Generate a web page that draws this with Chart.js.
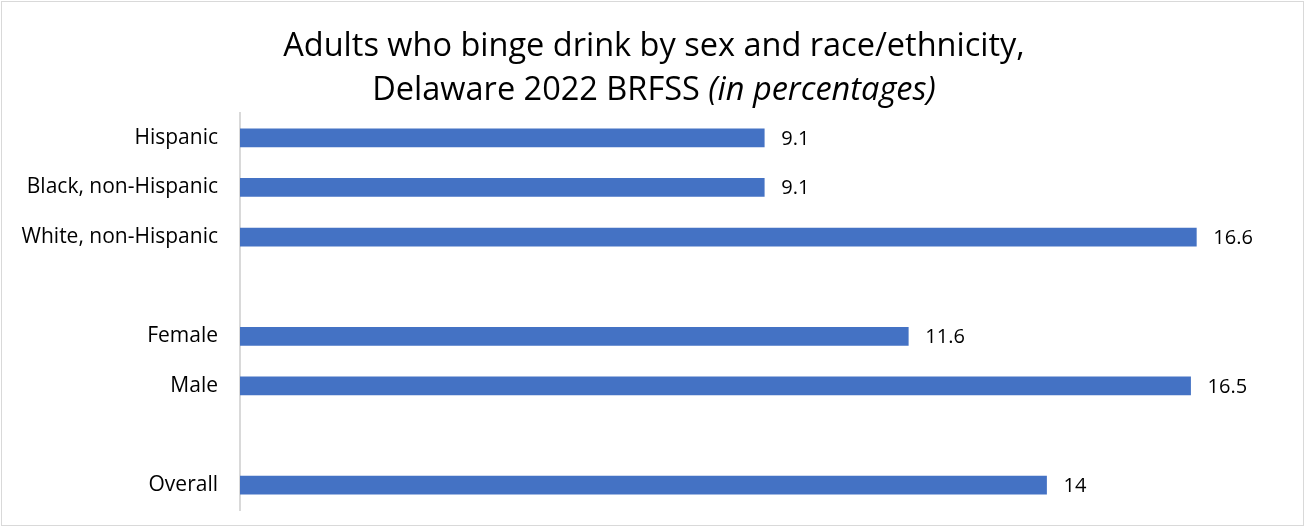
<!DOCTYPE html>
<html>
<head>
<meta charset="utf-8">
<title>Adults who binge drink, Delaware 2022 BRFSS</title>
<script src="https://cdn.jsdelivr.net/npm/chart.js@4.4.0/dist/chart.umd.min.js"></script>
<style>
    html, body { margin: 0; padding: 0; background: #fff; }
    #wrap { width: 1305px; height: 527px; position: relative; }
</style>
</head>
<body>
<div id="wrap"><canvas id="bingeChart"></canvas></div>
<script>
// Categories top to bottom; empty strings leave a gap between the groups
const categories = ['Hispanic', 'Black, non-Hispanic', 'White, non-Hispanic', '', 'Female', 'Male', '', 'Overall'];
// Percent of adults who binge drink
const percentages = [9.1, 9.1, 16.6, null, 11.6, 16.5, null, 14];
// Printed next to each bar
const valueLabels = ['9.1', '9.1', '16.6', '', '11.6', '16.5', '', '14'];

const titleLine1 = 'Adults who binge drink by sex and race/ethnicity,';
const titleLine2 = 'Delaware 2022 BRFSS ';
const titleLine2Italic = '(in percentages)';

const fontFamily = '"Open Sans", "DejaVu Sans", sans-serif';
const barColor = '#4472C4';
const titleSize = 32.5;
const tickSize = 21;
const valueSize = 20;

// Two-line title with the italic tail, plus the thin frame round the chart
const titlePlugin = {
    id: 'titleAndFrame',
    beforeDraw(chart) {
        const ctx = chart.ctx;
        ctx.save();
        ctx.fillStyle = '#fff';
        ctx.fillRect(0, 0, chart.width, chart.height);
        ctx.strokeStyle = '#d9d9d9';
        ctx.lineWidth = 1;
        ctx.strokeRect(1.5, 1.5, chart.width - 3, chart.height - 3);
        ctx.restore();
    },
    afterDraw(chart) {
        const ctx = chart.ctx;
        const cx = 654;
        ctx.save();
        ctx.fillStyle = '#000';
        ctx.textBaseline = 'alphabetic';
        ctx.font = titleSize + 'px ' + fontFamily;
        ctx.textAlign = 'center';
        ctx.fillText(titleLine1, cx, 56);

        const normalFont = titleSize + 'px ' + fontFamily;
        const italicFont = 'italic ' + titleSize + 'px ' + fontFamily;
        ctx.font = normalFont;
        const w1 = ctx.measureText(titleLine2).width;
        ctx.font = italicFont;
        const w2 = ctx.measureText(titleLine2Italic).width;
        const x = cx - (w1 + w2) / 2;
        ctx.textAlign = 'left';
        ctx.font = normalFont;
        ctx.fillText(titleLine2, x, 100);
        ctx.font = italicFont;
        ctx.fillText(titleLine2Italic, x + w1, 100);
        ctx.restore();
    }
};

// Value text at the end of each bar
const valuePlugin = {
    id: 'barValues',
    afterDatasetsDraw(chart) {
        const ctx = chart.ctx;
        const meta = chart.getDatasetMeta(0);
        ctx.save();
        ctx.fillStyle = '#000';
        ctx.font = valueSize + 'px ' + fontFamily;
        ctx.textAlign = 'left';
        ctx.textBaseline = 'middle';
        meta.data.forEach((bar, i) => {
            if (percentages[i] == null) return;
            ctx.fillText(valueLabels[i], bar.x + 17, bar.y + 1);
        });
        ctx.restore();
    }
};

const ctx = document.getElementById('bingeChart').getContext('2d');
const bingeChart = new Chart(ctx, {
    type: 'bar',
    data: {
        labels: categories,
        datasets: [{
            data: percentages,
            backgroundColor: barColor,
            barThickness: 18
        }]
    },
    options: {
        indexAxis: 'y',
        responsive: true,
        maintainAspectRatio: false,
        animation: false,
        layout: {
            padding: { top: 113, bottom: 17, left: 2, right: 28 }
        },
        plugins: {
            legend: { display: false },
            tooltip: { enabled: false }
        },
        scales: {
            x: {
                display: false,
                min: 0,
                max: 18
            },
            y: {
                grid: { display: false, drawTicks: false },
                border: { display: true, color: '#d9d9d9', width: 2 },
                ticks: {
                    color: '#000',
                    padding: 22,
                    font: { family: fontFamily, size: tickSize }
                },
                afterFit(scale) {
                    // fixed label column; drop the extra end padding the tick labels ask for
                    scale.width = 238;
                    scale.paddingTop = 0;
                    scale.paddingBottom = 0;
                }
            }
        }
    },
    plugins: [titlePlugin, valuePlugin]
});
</script>
</body>
</html>
